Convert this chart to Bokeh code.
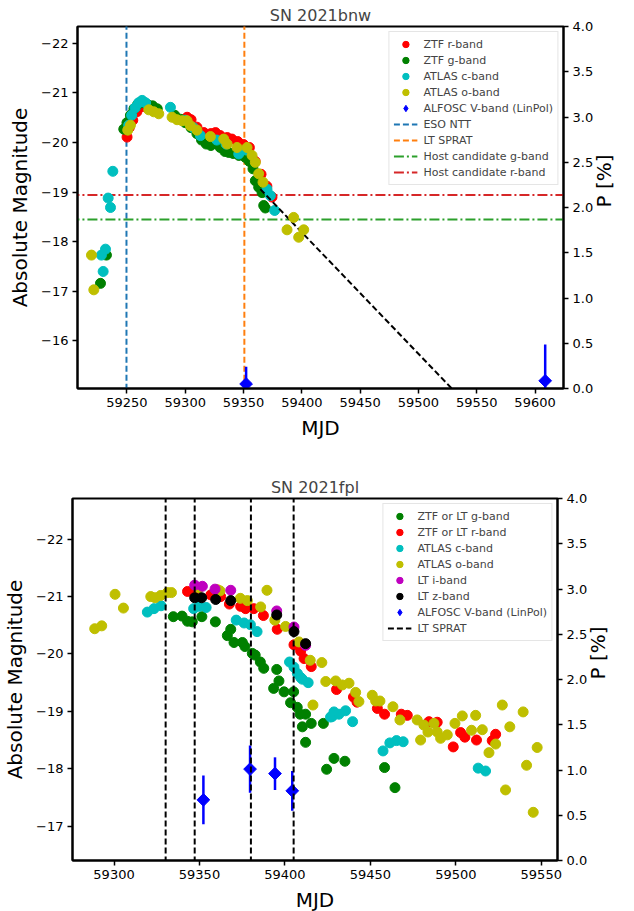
import math
from bokeh.plotting import figure
from bokeh.models import (Range1d, LinearAxis, FixedTicker, CustomJSTickFormatter,
                          PrintfTickFormatter, Legend, LegendItem)
from bokeh.embed import file_html
from bokeh.resources import INLINE

FONT = "DejaVu Sans"

# ---------------- SN 2021bnw ----------------
bnw_ztf_r_mjd = [59250.1, 59252.0, 59255.0, 59258.5, 59262.0, 59266.0, 59270.0, 59274.0, 59301.6,
                 59305.0, 59310.0, 59316.0, 59322.0, 59326.0, 59330.0, 59336.0, 59340.0, 59345.0,
                 59350.0, 59355.0, 59360.0, 59365.0, 59370.0, 59374.4]
bnw_ztf_r_mag = [-20.11, -20.30, -20.45, -20.62, -20.72, -20.72, -20.68, -20.64, -20.51,
                 -20.46, -20.31, -20.20, -20.18, -20.20, -20.14, -20.10, -20.07, -20.02,
                 -19.96, -19.90, -19.62, -19.36, -19.12, -18.90]
bnw_ztf_g_mjd = [59227.3, 59232.4, 59247.3, 59250.0, 59253.0, 59256.0, 59259.0, 59262.0, 59265.0,
                 59268.0, 59272.0, 59276.0, 59291.0, 59296.0, 59300.0, 59305.0, 59310.0, 59314.0,
                 59318.0, 59322.0, 59326.0, 59330.0, 59334.0, 59337.3, 59341.0, 59346.0, 59351.6,
                 59355.0, 59358.1, 59360.1, 59363.0, 59365.9, 59367.3, 59368.7]
bnw_ztf_g_mag = [-17.16, -17.73, -20.27, -20.40, -20.55, -20.68, -20.76, -20.82, -20.80,
                 -20.76, -20.74, -20.68, -20.55, -20.47, -20.40, -20.30, -20.18, -20.05,
                 -19.97, -19.94, -19.98, -19.90, -19.82, -19.80, -19.78, -19.74, -19.70,
                 -19.62, -19.47, -19.23, -19.10, -18.99, -18.73, -18.68]
bnw_atlas_c_mjd = [59228.1, 59229.6, 59231.6, 59233.9, 59235.9, 59237.9, 59251.5, 59254.0, 59257.0,
                   59260.0, 59263.0, 59266.0, 59287.3, 59300.0, 59307.0, 59313.0, 59327.0, 59335.0,
                   59345.9, 59352.0, 59370.1, 59373.0, 59376.7]
bnw_atlas_c_mag = [-17.73, -17.40, -17.85, -18.88, -18.69, -19.42, -20.35, -20.55, -20.70,
                   -20.80, -20.85, -20.80, -20.71, -20.45, -20.30, -20.14, -20.05, -19.97,
                   -19.77, -19.85, -19.06, -18.93, -18.63]
bnw_atlas_o_mjd = [59219.6, 59221.6, 59250.7, 59253.0, 59268.7, 59273.0, 59277.3, 59288.7, 59293.0,
                   59297.3, 59301.6, 59304.4, 59310.0, 59321.6, 59333.0, 59335.9, 59344.4, 59353.0,
                   59357.3, 59360.1, 59363.0, 59366.7, 59387.3, 59393.0, 59397.3, 59401.6]
bnw_atlas_o_mag = [-17.73, -17.03, -20.25, -20.35, -20.66, -20.62, -20.58, -20.51, -20.46,
                   -20.44, -20.44, -20.34, -20.25, -20.12, -20.07, -19.97, -19.90, -19.90,
                   -19.74, -19.60, -19.37, -19.20, -18.24, -18.49, -18.09, -18.24]
bnw_pol_mjd = [59352.2, 59608.7]
bnw_pol_p = [0.05, 0.085]
bnw_pol_err = [0.19, 0.40]
bnw_eso_ntt = [59249.6]
bnw_lt_sprat = [59350.7]
bnw_host_g = -18.45
bnw_host_r = -18.94
bnw_decay_mjd = [59364.4, 59560.0]
bnw_decay_mag = [-19.06, -14.27]

# ---------------- SN 2021fpl ----------------
fpl_g_mjd = [59334.7, 59339.8, 59343.0, 59345.8, 59351.4, 59359.3, 59366.3, 59368.3, 59370.2,
             59375.1, 59376.6, 59380.9, 59382.6, 59385.6, 59387.6, 59393.4, 59395.2, 59396.5,
             59399.5, 59403.3, 59405.1, 59407.2, 59408.9, 59410.2, 59412.1, 59412.1, 59415.4,
             59422.5, 59424.4, 59428.7, 59435.1, 59458.3, 59464.4]
fpl_g_mag = [-20.65, -20.66, -20.57, -20.56, -20.65, -20.56, -20.32, -20.43, -20.20,
             -20.20, -20.13, -20.01, -19.98, -19.86, -19.75, -19.40, -19.73, -19.53,
             -19.34, -19.15, -19.34, -19.07, -18.95, -18.73, -18.95, -18.46, -18.79,
             -18.79, -17.99, -18.18, -18.13, -18.02, -17.67]
fpl_r_mjd = [59343.0, 59347.2, 59356.6, 59362.4, 59367.5, 59374.1, 59377.0, 59381.8, 59387.4,
             59395.5, 59405.3, 59409.2, 59411.2, 59415.4, 59430.2, 59440.1, 59442.2, 59454.1,
             59458.3, 59468.1, 59471.6, 59484.3, 59489.1, 59498.5, 59502.8, 59505.3, 59512.1,
             59521.3, 59523.3]
fpl_r_mag = [-21.09, -21.05, -21.03, -21.00, -20.87, -20.83, -20.79, -20.79, -20.67,
             -20.43, -20.16, -20.05, -19.92, -19.78, -19.38, -19.25, -19.16, -19.05,
             -18.95, -18.95, -18.93, -18.82, -18.81, -18.38, -18.63, -18.55, -18.50,
             -18.49, -18.60]
fpl_c_mjd = [59319.5, 59323.4, 59327.5, 59346.6, 59350.0, 59353.9, 59371.5, 59376.1, 59379.8,
             59383.7, 59402.7, 59405.3, 59407.3, 59409.2, 59410.2, 59413.6, 59426.7, 59427.7,
             59428.7, 59431.6, 59435.5, 59439.6, 59457.4, 59461.4, 59465.3, 59469.2, 59513.1,
             59517.4]
fpl_c_mag = [-20.73, -20.79, -20.84, -20.79, -20.83, -20.81, -20.59, -20.54, -20.51,
             -20.39, -19.86, -19.77, -19.66, -19.59, -19.56, -19.50, -18.90, -18.91,
             -18.99, -18.95, -19.01, -18.82, -18.31, -18.45, -18.49, -18.47, -18.01,
             -17.96]
fpl_o_mjd = [59288.7, 59292.8, 59300.6, 59305.5, 59321.5, 59324.0, 59327.3, 59331.2, 59333.6,
             59349.7, 59360.5, 59362.0, 59373.9, 59378.0, 59385.8, 59389.5, 59394.1, 59400.4,
             59408.2, 59414.8, 59416.4, 59421.6, 59423.9, 59429.7, 59433.6, 59437.5, 59441.4,
             59443.3, 59451.1, 59453.1, 59455.6, 59463.2, 59467.3, 59477.4, 59479.4, 59481.3,
             59483.7, 59487.2, 59489.1, 59491.1, 59495.0, 59499.5, 59503.8, 59509.2, 59511.6,
             59515.5, 59519.4, 59523.3, 59527.2, 59529.1, 59531.6, 59539.4, 59541.4, 59545.3,
             59547.6]
fpl_o_mag = [-20.44, -20.49, -21.04, -20.80, -21.00, -20.98, -21.02, -21.07, -21.07,
             -21.15, -21.12, -21.10, -20.97, -20.93, -20.82, -21.11, -20.59, -20.48,
             -20.21, -19.89, -19.11, -19.85, -19.52, -19.53, -19.46, -19.49, -19.33,
             -19.17, -19.28, -19.18, -19.18, -19.08, -18.85, -18.85, -18.50, -18.76,
             -18.64, -18.79, -18.64, -18.53, -18.59, -18.79, -18.92, -18.67, -18.93,
             -18.68, -18.28, -18.43, -19.11, -17.63, -18.73, -18.99, -18.06, -17.24,
             -18.37]
fpl_i_mjd = [59347.2, 59351.7, 59359.1, 59368.3, 59395.2, 59405.3, 59412.1]
fpl_i_mag = [-21.20, -21.18, -21.13, -21.11, -20.75, -20.47, -20.15]
fpl_z_mjd = [59347.2, 59351.3, 59359.5, 59368.3, 59395.2, 59405.3, 59412.1]
fpl_z_mag = [-20.98, -20.98, -20.95, -20.93, -20.68, -20.39, -20.18]
fpl_pol_mjd = [59352.3, 59379.6, 59394.2, 59404.3]
fpl_pol_p = [0.67, 1.01, 0.96, 0.77]
fpl_pol_err = [0.27, 0.26, 0.18, 0.22]
fpl_lt_sprat = [59330.2, 59347.2, 59380.1, 59405.1]

# ---------------- styling helpers ----------------
C_R, C_G, C_C, C_Y, C_M, C_K, C_B = "#ff0000", "#008000", "#00bfbf", "#bfbf00", "#bf00bf", "#000000", "#0000ff"
MS = 10
NAN = float("nan")

minus_fmt = CustomJSTickFormatter(code="return (tick < 0 ? '\u2212' : '') + Math.abs(tick).toFixed(0);")


def make_fig(title, xr, yr, xticks, yticks, fw, fh, left, right, top, bottom):
    p = figure(x_range=Range1d(*xr), y_range=Range1d(*yr), frame_width=fw, frame_height=fh,
               min_border_left=left, min_border_right=right, min_border_top=top,
               min_border_bottom=bottom, output_backend="svg", toolbar_location=None)
    p.title.text = title
    p.title.align = "center"
    p.title.text_font = FONT
    p.title.text_font_size = "16px"
    p.title.text_font_style = "normal"
    p.title.standoff = 3
    p.extra_y_ranges = {"pol": Range1d(0, 4)}
    p.add_layout(LinearAxis(y_range_name="pol", axis_label="P [%]"), "right")
    p.xgrid.visible = False
    p.ygrid.visible = False
    p.outline_line_color = "black"
    p.outline_line_width = 2
    p.outline_line_alpha = 1
    p.xaxis.axis_label = "MJD"
    p.yaxis[0].axis_label = "Absolute Magnitude"
    p.xaxis.ticker = FixedTicker(ticks=xticks)
    p.yaxis[0].ticker = FixedTicker(ticks=yticks)
    p.yaxis[0].formatter = minus_fmt
    p.yaxis[1].ticker = FixedTicker(ticks=[0, 0.5, 1, 1.5, 2, 2.5, 3, 3.5, 4])
    p.yaxis[1].formatter = PrintfTickFormatter(format="%.1f")
    for ax in p.axis:
        ax.axis_line_width = 2
        ax.axis_line_color = "black"
        ax.major_tick_out = 5
        ax.major_tick_in = 0
        ax.major_tick_line_width = 1.5
        ax.minor_tick_out = 0
        ax.minor_tick_in = 0
        ax.major_label_text_font = FONT
        ax.major_label_text_font_size = "13px"
        ax.major_label_text_color = "black"
        ax.major_label_standoff = 4
        ax.axis_label_text_font = FONT
        ax.axis_label_text_font_size = "20px"
        ax.axis_label_text_font_style = "normal"
        ax.axis_label_text_color = "black"
        ax.axis_label_standoff = 6
    p.yaxis[1].axis_label_orientation = math.pi / 2
    p.yaxis[1].axis_label_standoff = 8
    return p


def style_legend(p, items):
    leg = Legend(items=items, location="top_right")
    leg.label_text_font = FONT
    leg.label_text_font_size = "11px"
    leg.glyph_width = 24
    leg.glyph_height = 16
    leg.label_height = 16
    leg.spacing = 0
    leg.padding = 4
    leg.margin = 5
    leg.label_standoff = 6
    leg.border_line_color = "#cccccc"
    leg.border_line_width = 1
    leg.background_fill_alpha = 0.8
    p.add_layout(leg)


# ---------------- top panel ----------------
p1 = make_fig("SN 2021bnw", (59207.6, 59624.4), (-15.04, -22.34),
              [59250, 59300, 59350, 59400, 59450, 59500, 59550, 59600],
              [-22, -21, -20, -19, -18, -17, -16], 486, 362, 77, 71, 26, 62)

far_lo, far_hi = -40, 10
eso = p1.segment(x0=bnw_eso_ntt, y0=[far_lo], x1=bnw_eso_ntt, y1=[far_hi], line_color="#1f77b4",
                 line_width=2, line_dash="6 3")
lts = p1.segment(x0=bnw_lt_sprat, y0=[far_lo], x1=bnw_lt_sprat, y1=[far_hi], line_color="#ff7f0e",
                 line_width=2, line_dash="6 3")
hg = p1.segment(x0=[59000], y0=[bnw_host_g], x1=[60000], y1=[bnw_host_g], line_color="#2ca02c",
                line_width=2, line_dash="10 3 2 3")
hr = p1.segment(x0=[59000], y0=[bnw_host_r], x1=[60000], y1=[bnw_host_r], line_color="#d62728",
                line_width=2, line_dash="10 3 2 3")
r1 = p1.scatter(bnw_ztf_r_mjd, bnw_ztf_r_mag, size=MS, color=C_R)
g1 = p1.scatter(bnw_ztf_g_mjd, bnw_ztf_g_mag, size=MS, color=C_G)
c1 = p1.scatter(bnw_atlas_c_mjd, bnw_atlas_c_mag, size=MS, color=C_C)
p1.line(bnw_decay_mjd, bnw_decay_mag, line_color="black", line_width=2, line_dash="6 3")
o1 = p1.scatter(bnw_atlas_o_mjd, bnw_atlas_o_mag, size=MS, color=C_Y)
p1.segment(x0=bnw_pol_mjd, y0=[v - e for v, e in zip(bnw_pol_p, bnw_pol_err)],
           x1=bnw_pol_mjd, y1=[v + e for v, e in zip(bnw_pol_p, bnw_pol_err)],
           line_color=C_B, line_width=2.5, y_range_name="pol")
p1.scatter(bnw_pol_mjd, bnw_pol_p, marker="square", angle=math.pi / 4, size=9, color=C_B,
           y_range_name="pol")
# legend key only (a non-drawn point) so that the legend shows a diamond
b1 = p1.scatter(x=[NAN], y=[NAN], marker="diamond", color=C_B, y_range_name="pol")
style_legend(p1, [
    LegendItem(label="ZTF r-band", renderers=[r1]),
    LegendItem(label="ZTF g-band", renderers=[g1]),
    LegendItem(label="ATLAS c-band", renderers=[c1]),
    LegendItem(label="ATLAS o-band", renderers=[o1]),
    LegendItem(label="ALFOSC V-band (LinPol)", renderers=[b1]),
    LegendItem(label="ESO NTT", renderers=[eso]),
    LegendItem(label="LT SPRAT", renderers=[lts]),
    LegendItem(label="Host candidate g-band", renderers=[hg]),
    LegendItem(label="Host candidate r-band", renderers=[hr]),
])

# ---------------- bottom panel ----------------
p2 = make_fig("SN 2021fpl", (59275.7, 59559.5), (-16.40, -22.71),
              [59300, 59350, 59400, 59450, 59500, 59550],
              [-22, -21, -20, -19, -18, -17], 485, 362, 72, 77, 48, 50)

g2 = p2.scatter(fpl_g_mjd, fpl_g_mag, size=MS, color=C_G)
r2 = p2.scatter(fpl_r_mjd, fpl_r_mag, size=MS, color=C_R)
c2 = p2.scatter(fpl_c_mjd, fpl_c_mag, size=MS, color=C_C)
o2 = p2.scatter(fpl_o_mjd, fpl_o_mag, size=MS, color=C_Y)
i2 = p2.scatter(fpl_i_mjd, fpl_i_mag, size=MS, color=C_M)
z2 = p2.scatter(fpl_z_mjd, fpl_z_mag, size=MS, color=C_K)
p2.segment(x0=fpl_pol_mjd, y0=[v - e for v, e in zip(fpl_pol_p, fpl_pol_err)],
           x1=fpl_pol_mjd, y1=[v + e for v, e in zip(fpl_pol_p, fpl_pol_err)],
           line_color=C_B, line_width=2.5, y_range_name="pol")
p2.scatter(fpl_pol_mjd, fpl_pol_p, marker="square", angle=math.pi / 4, size=9, color=C_B,
           y_range_name="pol")
b2 = p2.scatter(x=[NAN], y=[NAN], marker="diamond", color=C_B, y_range_name="pol")
lt2 = p2.segment(x0=fpl_lt_sprat, y0=[far_lo] * 4, x1=fpl_lt_sprat, y1=[far_hi] * 4,
                 line_color="black", line_width=2, line_dash="6 3")
style_legend(p2, [
    LegendItem(label="ZTF or LT g-band", renderers=[g2]),
    LegendItem(label="ZTF or LT r-band", renderers=[r2]),
    LegendItem(label="ATLAS c-band", renderers=[c2]),
    LegendItem(label="ATLAS o-band", renderers=[o2]),
    LegendItem(label="LT i-band", renderers=[i2]),
    LegendItem(label="LT z-band", renderers=[z2]),
    LegendItem(label="ALFOSC V-band (LinPol)", renderers=[b2]),
    LegendItem(label="LT SPRAT", renderers=[lt2]),
])

# two independent roots stacked on the page (no frame alignment between them)
open("out.html", "w").write(file_html([p1, p2], INLINE))
